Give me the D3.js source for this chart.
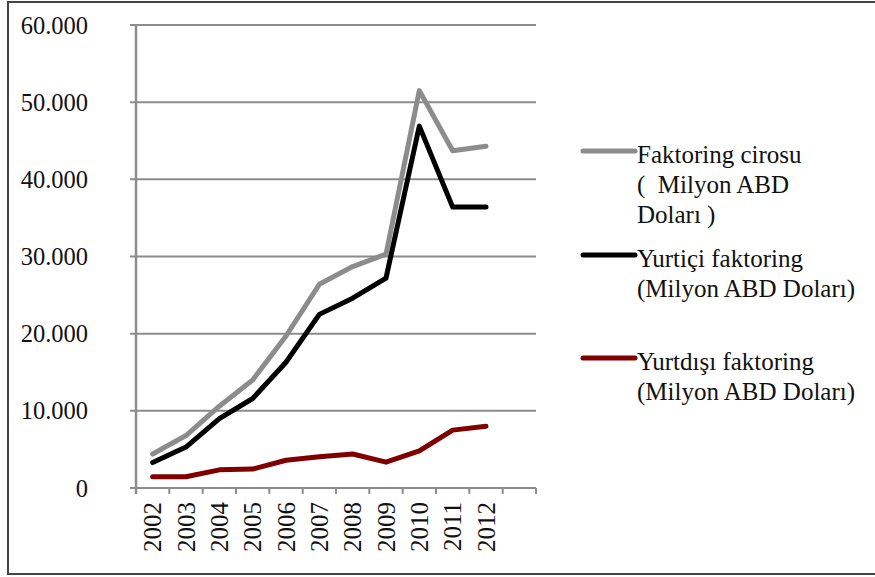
<!DOCTYPE html>
<html>
<head>
<meta charset="utf-8">
<script src="https://cdn.jsdelivr.net/npm/d3@7"></script>
</head>
<body style="margin:0; background:#fff">
<script>
var years = ["2002", "2003", "2004", "2005", "2006", "2007", "2008", "2009", "2010", "2011", "2012"];
var cirosu = [4400, 6800, 10600, 14000, 19700, 26400, 28700, 30300, 51500, 43700, 44300];
var yurtici = [3300, 5300, 9000, 11600, 16300, 22500, 24600, 27200, 46900, 36400, 36400];
var yurtdisi = [1450, 1450, 2350, 2450, 3600, 4050, 4400, 3350, 4800, 7500, 8000];
var yTicks = [0, 10000, 20000, 30000, 40000, 50000, 60000];
var seriesNames = [
  ["Faktoring cirosu", "(  Milyon ABD", "Doları )"],
  ["Yurtiçi faktoring", "(Milyon ABD Doları)"],
  ["Yurtdışı faktoring", "(Milyon ABD Doları)"]
];
var seriesColors = ["#8c8c8c", "#000000", "#800000"];

var width = 875,
    height = 577,
    font = "Liberation Serif";

var svg = d3.select("body").append("svg")
  .attr("width", width)
  .attr("height", height);

// outer frame (runs off the right edge)
svg.append("rect")
  .attr("x", 8).attr("y", 2)
  .attr("width", 880).attr("height", 572)
  .attr("fill", "none")
  .attr("stroke", "#444")
  .attr("stroke-width", 2);

// 12 bands, the last one left empty
var xScale = d3.scaleBand()
  .domain(years.concat(["_"]))
  .range([136, 536]);

var yScale = d3.scaleLinear()
  .domain([0, 60000])
  .range([488, 25]);

var grid = "#8c8c8c";

// gridlines
svg.selectAll("line.grid")
  .data(yTicks)
  .enter().append("line")
  .attr("class", "grid")
  .attr("x1", 130).attr("x2", 536)
  .attr("y1", function (d) { return yScale(d); })
  .attr("y2", function (d) { return yScale(d); })
  .attr("stroke", grid)
  .attr("stroke-width", 2);

// y axis line
svg.append("line")
  .attr("x1", 136).attr("x2", 136)
  .attr("y1", yScale(60000)).attr("y2", 494)
  .attr("stroke", grid)
  .attr("stroke-width", 2.5);

// x tick marks at band edges
var edges = xScale.domain().map(function (d) { return xScale(d); }).concat([xScale.range()[1]]);
svg.selectAll("line.xtick")
  .data(edges.slice(1))
  .enter().append("line")
  .attr("class", "xtick")
  .attr("x1", function (d) { return d; })
  .attr("x2", function (d) { return d; })
  .attr("y1", 488).attr("y2", 494)
  .attr("stroke", grid)
  .attr("stroke-width", 2);

// y labels
svg.selectAll("text.ylab")
  .data(yTicks)
  .enter().append("text")
  .attr("class", "ylab")
  .attr("x", 88)
  .attr("y", function (d) { return yScale(d); })
  .attr("dy", "0.35em")
  .attr("text-anchor", "end")
  .attr("font-family", font)
  .attr("font-size", 24.5)
  .attr("fill", "#111")
  .text(function (d) { return d === 0 ? "0" : d3.format(",")(d).replace(",", "."); });

// x labels
svg.selectAll("text.xlab")
  .data(years)
  .enter().append("text")
  .attr("class", "xlab")
  .attr("transform", function (d) {
    return "translate(" + (xScale(d) + xScale.bandwidth() / 2) + ",502) rotate(-90)";
  })
  .attr("dy", "0.35em")
  .attr("text-anchor", "end")
  .attr("font-family", font)
  .attr("font-size", 25)
  .attr("fill", "#111")
  .text(function (d) { return d; });

// lines
var line = d3.line()
  .x(function (d, i) { return xScale(years[i]) + xScale.bandwidth() / 2; })
  .y(function (d) { return yScale(d); });

var allSeries = [cirosu, yurtici, yurtdisi];
[2, 0, 1].forEach(function (k) {
  svg.append("path")
    .datum(allSeries[k])
    .attr("d", line)
    .attr("fill", "none")
    .attr("stroke", seriesColors[k])
    .attr("stroke-width", 5)
    .attr("stroke-linejoin", "round")
    .attr("stroke-linecap", "round");
});

// legend
var legendBase = [163, 267, 370];
seriesNames.forEach(function (names, k) {
  var b = legendBase[k];
  svg.append("line")
    .attr("x1", 583).attr("x2", 635)
    .attr("y1", b - 12).attr("y2", b - 12)
    .attr("stroke", seriesColors[k])
    .attr("stroke-width", 5)
    .attr("stroke-linecap", "round");
  var t = svg.append("text")
    .attr("x", 637)
    .attr("y", b)
    .attr("font-family", font)
    .attr("font-size", 25)
    .attr("fill", "#111")
    .style("white-space", "pre");
  names.forEach(function (s, i) {
    t.append("tspan")
      .attr("x", 637)
      .attr("y", b + i * 30)
      .text(s);
  });
});
</script>
</body>
</html>
